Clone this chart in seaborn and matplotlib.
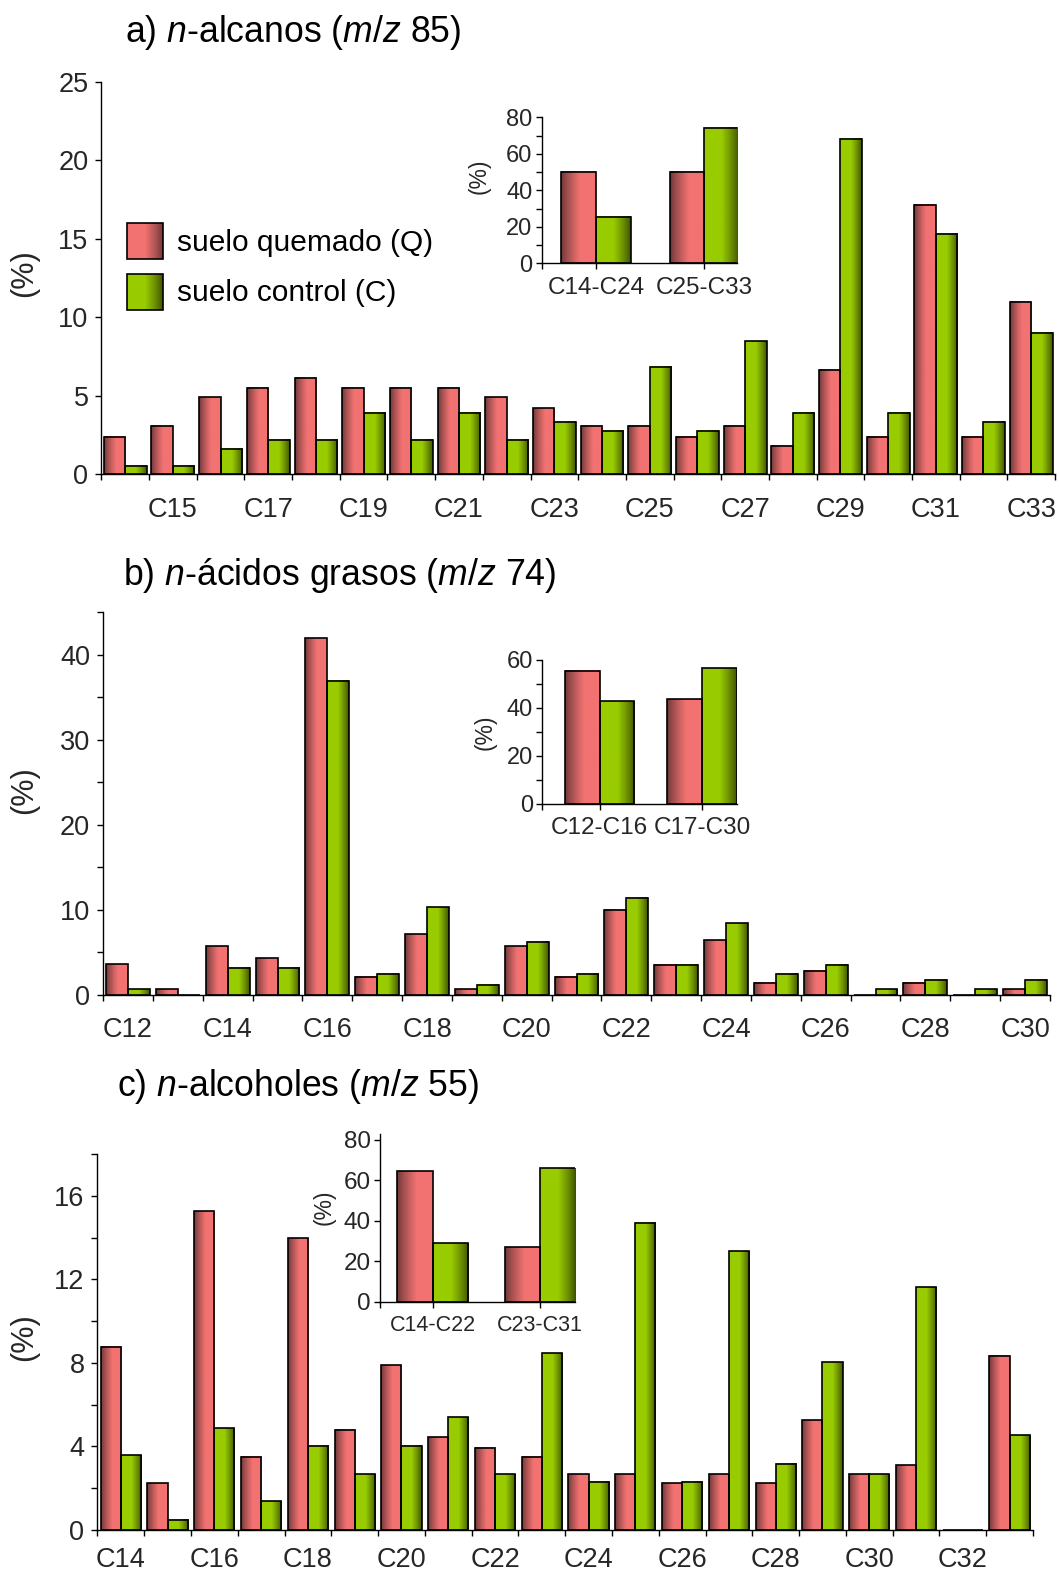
import numpy as np
import pandas as pd
import seaborn as sns
import matplotlib.pyplot as plt
import matplotlib.colors as mcolors
import matplotlib.transforms as mtransforms
from matplotlib.image import BboxImage
from matplotlib.patches import Patch
from matplotlib.ticker import MultipleLocator

# --- data ---
a_cadenas = ['C14', 'C15', 'C16', 'C17', 'C18', 'C19', 'C20', 'C21', 'C22', 'C23',
             'C24', 'C25', 'C26', 'C27', 'C28', 'C29', 'C30', 'C31', 'C32', 'C33']
a_quemado = [2.4, 3.1, 4.9, 5.5, 6.15, 5.5, 5.5, 5.5, 4.9, 4.2,
             3.07, 3.07, 2.4, 3.07, 1.8, 6.63, 2.4, 17.15, 2.4, 10.98]
a_control = [0.55, 0.55, 1.6, 2.2, 2.2, 3.9, 2.2, 3.9, 2.2, 3.35,
             2.78, 6.83, 2.78, 8.46, 3.93, 21.37, 3.93, 15.3, 3.35, 9.02]

b_cadenas = ['C12', 'C13', 'C14', 'C15', 'C16', 'C17', 'C18', 'C19', 'C20', 'C21',
             'C22', 'C23', 'C24', 'C25', 'C26', 'C27', 'C28', 'C29', 'C30']
b_quemado = [3.6, 0.7, 5.7, 4.3, 41.9, 2.15, 7.15, 0.7, 5.7, 2.15,
             10.0, 3.57, 6.43, 1.43, 2.86, 0, 1.43, 0, 0.7]
b_control = [0.7, 0, 3.2, 3.2, 36.9, 2.5, 10.3, 1.23, 6.27, 2.5,
             11.43, 3.57, 8.41, 2.5, 3.57, 0.7, 1.79, 0.7, 1.79]

c_cadenas = ['C14', 'C15', 'C16', 'C17', 'C18', 'C19', 'C20', 'C21', 'C22', 'C23',
             'C24', 'C25', 'C26', 'C27', 'C28', 'C29', 'C30', 'C31', 'C32', 'C33']
c_quemado = [8.77, 2.23, 15.26, 3.51, 13.97, 4.8, 7.89, 4.45, 3.94, 3.51,
             2.66, 2.66, 2.23, 2.66, 2.23, 5.25, 2.66, 3.09, 0, 8.33]
c_control = [3.59, 0.49, 4.88, 1.37, 4.03, 2.66, 4.03, 5.39, 2.66, 8.47,
             2.3, 14.7, 2.3, 13.35, 3.16, 8.04, 2.66, 11.63, 0, 4.53]

ia_grupos = ['C14-C24', 'C25-C33']
ia_quemado = [50.2, 50.2]
ia_control = [25.4, 74.0]

ib_grupos = ['C12-C16', 'C17-C30']
ib_quemado = [55.5, 43.6]
ib_control = [42.9, 56.5]

ic_grupos = ['C14-C22', 'C23-C31']
ic_quemado = [64.5, 26.9]
ic_control = [28.8, 65.9]

leyenda = ['suelo quemado (Q)', 'suelo control (C)']

Q_LIGHT, Q_DARK = '#f27272', '#6a3636'
C_LIGHT, C_DARK = '#99cc00', '#3c4e00'

sns.set_style('ticks')
plt.rcParams['font.family'] = ['Liberation Sans', 'DejaVu Sans']
plt.rcParams['mathtext.fontset'] = 'custom'
plt.rcParams['mathtext.rm'] = 'Liberation Sans'
plt.rcParams['mathtext.it'] = 'Liberation Sans:italic'
plt.rcParams['axes.linewidth'] = 1.0
plt.rcParams['axes.edgecolor'] = 'black'
plt.rcParams['text.color'] = 'black'

W, H = 1059, 1571
fig = plt.figure(figsize=(W / 100, H / 100), dpi=100)
fig.patch.set_facecolor('white')
# pixel coordinates, origin top-left
PX = mtransforms.Affine2D().scale(1 / W, -1 / H).translate(0, 1) + fig.transFigure


def axes_px(left, top, right, bottom):
    return fig.add_axes([left / W, 1 - bottom / H, (right - left) / W, (bottom - top) / H])


def gradient(light, dark, side, n=64):
    t = np.linspace(0, 1, n)
    if side == 'left':
        f = np.clip(t / 0.55, 0, 1) ** 0.8
    else:
        f = np.clip((1 - t) / 0.5, 0, 1) ** 0.8
    lo = np.array(mcolors.to_rgb(dark))
    hi = np.array(mcolors.to_rgb(light))
    return (lo + (hi - lo) * f[:, None])[None, :, :]


GRADS = {Q_LIGHT: gradient(Q_LIGHT, Q_DARK, 'left'),
         C_LIGHT: gradient(C_LIGHT, C_DARK, 'right')}


def shade_patch(ax, p, grad, z):
    img = BboxImage(lambda r, p=p: p.get_window_extent(r), interpolation='bilinear')
    img.set_data(grad)
    img.set_zorder(z)
    ax.add_artist(img)
    p.set_facecolor('none')


def bars(ax, cats, q, c, width):
    df = pd.DataFrame({'cadena': cats + cats,
                       'muestra': ['Q'] * len(cats) + ['C'] * len(cats),
                       'valor': q + c})
    sns.barplot(data=df, x='cadena', y='valor', hue='muestra', order=cats,
                hue_order=['Q', 'C'], palette=[Q_LIGHT, C_LIGHT], saturation=1,
                width=width, edgecolor='black', linewidth=1.2, errorbar=None,
                legend=False, ax=ax)
    ax.set_xlabel('')
    ax.set_ylabel('')
    ax.set_facecolor('none')
    for s in ['top', 'right']:
        ax.spines[s].set_visible(False)
    for p in list(ax.patches):
        if p.get_height() <= 0:
            continue
        key = mcolors.to_hex(p.get_facecolor())
        z = p.get_zorder()
        p.set_zorder(z + 0.2)
        shade_patch(ax, p, GRADS[key], z + 0.1)


def main_axis(ax, cats, first, ymax, major, minor, xpad, ylab_xy):
    n = len(cats)
    ax.set_xlim(-0.5, n - 0.5)
    ax.set_ylim(0, ymax)
    ax.set_xticks(np.arange(n + 1) - 0.5)
    ax.set_xticklabels([])
    idx = list(range(first, n, 2))
    ax.set_xticks(idx, minor=True)
    ax.set_xticklabels([cats[i] for i in idx], minor=True)
    ax.yaxis.set_major_locator(MultipleLocator(major))
    if minor:
        ax.yaxis.set_minor_locator(MultipleLocator(minor))
    else:
        ax.yaxis.set_minor_locator(plt.NullLocator())
    ax.tick_params(which='both', direction='out', length=4.3, width=1.0, color='black')
    ax.tick_params(axis='y', which='both', labelsize=19.5, pad=5)
    ax.tick_params(axis='x', which='minor', length=0, labelsize=19.5, pad=xpad)
    ax.set_ylabel('(%)', fontsize=22, va='center')
    ax.yaxis.set_label_coords(*ylab_xy, transform=PX)


def inset_axis(ax, cats, xlim, ymax, minor, xsize, ysize, xpad, ylab_xy):
    ax.set_xlim(*xlim)
    ax.set_ylim(0, ymax)
    ax.set_xticks([xlim[0], 0, 1])
    ax.set_xticklabels([''] + cats)
    ax.yaxis.set_major_locator(MultipleLocator(20))
    if minor:
        ax.yaxis.set_minor_locator(MultipleLocator(minor))
    else:
        ax.yaxis.set_minor_locator(plt.NullLocator())
    ax.tick_params(which='both', direction='out', length=4.3, width=1.0, color='black')
    ax.tick_params(axis='x', labelsize=xsize, pad=xpad)
    ax.tick_params(axis='y', labelsize=ysize, pad=2.5)
    ax.set_ylabel('(%)', fontsize=16.5, va='center')
    ax.yaxis.set_label_coords(*ylab_xy, transform=PX)


# --- panel a ---
ax_a = axes_px(101.4, 81.8, 1055, 474.3)
bars(ax_a, a_cadenas, a_quemado, a_control, 0.9)
main_axis(ax_a, a_cadenas, 1, 25, 5, None, 16.5, (24.5, 273))
fig.text(125, 42.5, r'a) $\mathit{n}$-alcanos ($\mathit{m/z}$ 85)', fontsize=25.7,
         ha='left', va='baseline', transform=PX)

handles = [Patch(facecolor=Q_LIGHT, edgecolor='black', linewidth=1.2, label=leyenda[0]),
           Patch(facecolor=C_LIGHT, edgecolor='black', linewidth=1.2, label=leyenda[1])]
leg = ax_a.legend(handles=handles, loc='upper left', bbox_to_anchor=(127.3, 222.7),
                  bbox_transform=PX, frameon=False, fontsize=21.5, handlelength=1.2,
                  handleheight=1.476, handletextpad=0.45, labelspacing=0.5,
                  borderpad=0, borderaxespad=0)
leg_grads = [gradient(Q_LIGHT, Q_DARK, 'right'), gradient(C_LIGHT, C_DARK, 'right')]
for p, g in zip(leg.get_patches(), leg_grads):
    shade_patch(ax_a, p, g, 4.9)

ia = axes_px(541.7, 117.3, 736.7, 263.3)
bars(ia, ia_grupos, ia_quemado, ia_control, 0.64)
inset_axis(ia, ia_grupos, (-0.5, 1.3), 80, 10, 17.5, 17, 5.5, (479, 176))

# --- panel b ---
ax_b = axes_px(103.1, 612, 1050, 995)
bars(ax_b, b_cadenas, b_quemado, b_control, 0.88)
main_axis(ax_b, b_cadenas, 0, 45, 10, 5, 15.5, (24.5, 790))
fig.text(123.4, 585.5, r'b) $\mathit{n}$-ácidos grasos ($\mathit{m/z}$ 74)', fontsize=25.7,
         ha='left', va='baseline', transform=PX)

ib = axes_px(542.3, 660, 736.7, 804)
bars(ib, ib_grupos, ib_quemado, ib_control, 0.68)
inset_axis(ib, ib_grupos, (-0.56, 1.34), 60, 10, 17.5, 17, 5.0, (485, 732.5))

# --- panel c ---
ax_c = axes_px(97.4, 1154, 1033, 1530)
bars(ax_c, c_cadenas, c_quemado, c_control, 0.86)
main_axis(ax_c, c_cadenas, 0, 18, 4, 2, 12.5, (24.5, 1337))
fig.text(116.6, 1096, r'c) $\mathit{n}$-alcoholes ($\mathit{m/z}$ 55)', fontsize=25.7,
         ha='left', va='baseline', transform=PX)

ic = axes_px(380, 1134, 575, 1301.7)
bars(ic, ic_grupos, ic_quemado, ic_control, 0.66)
inset_axis(ic, ic_grupos, (-0.49, 1.325), 82.8, None, 15.5, 17.5, 5.5, (324, 1207))

fig.canvas.draw()
fig.savefig('out.png', dpi=100)
